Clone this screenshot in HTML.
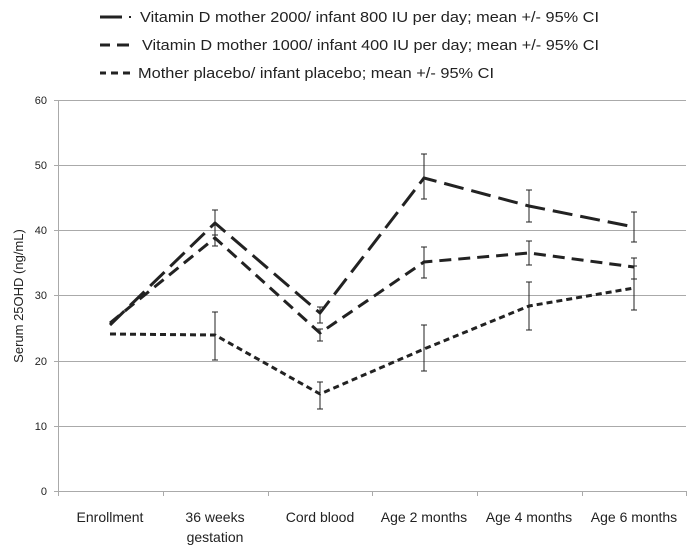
<!DOCTYPE html>
<html><head><meta charset="utf-8"><style>body{margin:0;background:#fff}svg{display:block}</style></head><body>
<svg width="694" height="548" viewBox="0 0 694 548" xmlns="http://www.w3.org/2000/svg" font-family="Liberation Sans, sans-serif" fill="#222">
<!-- legend -->
<g stroke="#222" stroke-width="3">
<line x1="100" y1="17" x2="122" y2="17"/>
<line x1="129" y1="17" x2="131" y2="17" stroke-width="2"/>
<line x1="100" y1="45" x2="110" y2="45"/><line x1="117" y1="45" x2="129" y2="45"/>
<line x1="100" y1="73" x2="106" y2="73"/><line x1="111" y1="73" x2="118" y2="73"/><line x1="123" y1="73" x2="130" y2="73"/>
</g>
<g font-size="15">
<text x="140" y="22" textLength="459" lengthAdjust="spacingAndGlyphs">Vitamin D mother 2000/ infant 800 IU per day; mean +/- 95% CI</text>
<text x="142" y="50" textLength="457" lengthAdjust="spacingAndGlyphs">Vitamin D mother 1000/ infant 400 IU per day; mean +/- 95% CI</text>
<text x="138" y="78" textLength="356" lengthAdjust="spacingAndGlyphs">Mother placebo/ infant placebo; mean +/- 95% CI</text>
</g>
<!-- grid -->
<g stroke="#aaa" stroke-width="1">
<line x1="54" y1="100.5" x2="686" y2="100.5"/>
<line x1="54" y1="165.5" x2="686" y2="165.5"/>
<line x1="54" y1="230.5" x2="686" y2="230.5"/>
<line x1="54" y1="295.5" x2="686" y2="295.5"/>
<line x1="54" y1="361.5" x2="686" y2="361.5"/>
<line x1="54" y1="426.5" x2="686" y2="426.5"/>
<line x1="54" y1="491.5" x2="686" y2="491.5"/>
<line x1="58.5" y1="100" x2="58.5" y2="491"/>
<line x1="58.5" y1="491" x2="58.5" y2="496"/><line x1="163.5" y1="491" x2="163.5" y2="496"/><line x1="268.5" y1="491" x2="268.5" y2="496"/><line x1="372.5" y1="491" x2="372.5" y2="496"/><line x1="477.5" y1="491" x2="477.5" y2="496"/><line x1="582.5" y1="491" x2="582.5" y2="496"/><line x1="686.5" y1="491" x2="686.5" y2="496"/>
</g>
<g font-size="11" text-anchor="end">
<text x="47" y="104">60</text><text x="47" y="169">50</text><text x="47" y="234">40</text><text x="47" y="299">30</text><text x="47" y="365">20</text><text x="47" y="430">10</text><text x="47" y="495">0</text>
</g>
<text transform="translate(23,296) rotate(-90)" font-size="13" text-anchor="middle">Serum 25OHD (ng/mL)</text>
<g font-size="14" text-anchor="middle">
<text x="110" y="522">Enrollment</text>
<text x="215" y="522">36 weeks</text><text x="215" y="542">gestation</text>
<text x="320" y="522">Cord blood</text>
<text x="424" y="522">Age 2 months</text>
<text x="529" y="522">Age 4 months</text>
<text x="634" y="522">Age 6 months</text>
</g>
<!-- error bars -->
<g stroke="#222" stroke-width="1" fill="none">
<path d="M215 210V236M212 210h6M212 235h6"/>
<path d="M215 235V246M212 246h6"/>
<path d="M215 312V360M212 312h6M212 360h6"/>
<path d="M320 307V323M317 307h6M317 323h6"/>
<path d="M320 329V341M317 329h6M317 341h6"/>
<path d="M320 382V409M317 382h6M317 409h6"/>
<path d="M424 154V199M421 154h6M421 199h6"/>
<path d="M424 247V278M421 247h6M421 278h6"/>
<path d="M424 325V371M421 325h6M421 371h6"/>
<path d="M529 190V222M526 190h6M526 222h6"/>
<path d="M529 241V265M526 241h6M526 265h6"/>
<path d="M529 282V330M526 282h6M526 330h6"/>
<path d="M634 212V242M631 212h6M631 242h6"/>
<path d="M634 258V279M631 258h6M631 279h6"/>
<path d="M634 266V310M631 266h6M631 310h6"/>
</g>
<!-- series -->
<g fill="none" stroke="#222" stroke-width="3">
<polyline points="110,325 215,223 320,313 424,178 529,206 634,227" stroke-dasharray="20,8"/>
<polyline points="110,323 215,238 320,333 424,262 529,253 634,267" stroke-dasharray="12,7"/>
<polyline points="110,334 215,335 320,394 424,349 529,306 634,288" stroke-dasharray="6,4"/>
</g>
</svg>
</body></html>
